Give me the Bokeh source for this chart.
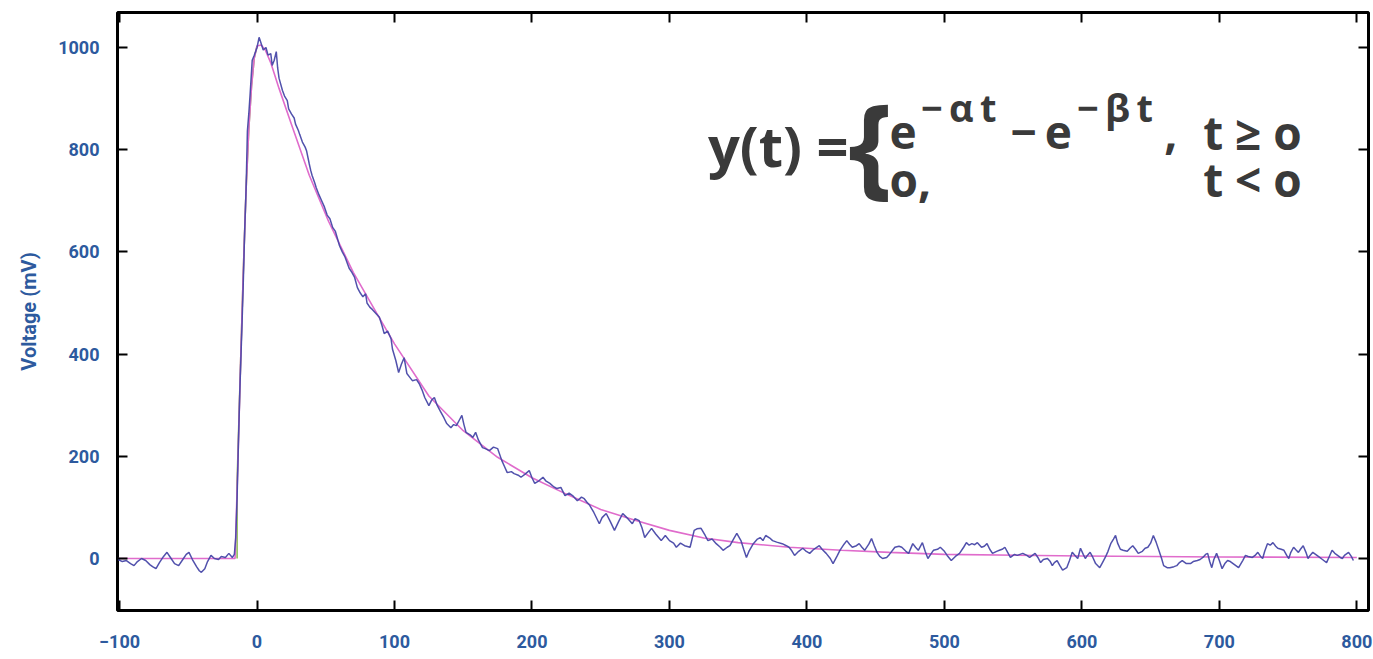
from bokeh.plotting import figure
from bokeh.models import Range1d, LinearAxis, Label, FixedTicker, CustomJSTickFormatter
from bokeh.embed import file_html
from bokeh.resources import INLINE

# ---------------- data ----------------
x_ticks = [-100, 0, 100, 200, 300, 400, 500, 600, 700, 800]
y_ticks = [0, 200, 400, 600, 800, 1000]

# measured trace, baseline before the trigger
pre_t = [-101, -98, -95, -92, -89.5, -87, -84, -81, -78, -76,
         -73.5, -71, -68, -65.5, -63, -60, -57, -54, -51.5, -49.5,
         -47, -44, -42, -40.5, -38, -36, -33.5, -31, -28, -26,
         -23, -20.5, -18, -16.5]
pre_v = [-2, -6, -4, -10, -14, -6, 0, -4, -12, -16,
         -20, -8, 4, 12, 2, -10, -14, -2, 8, 12,
         -2, -16, -24, -27, -20, -6, 6, 0, -2, 4,
         2, 10, 2, 8]

# rise and peak
peak_t = [-15.5, -14.5, -13.5, -12.5, -11, -10, -9, -8, -7, -6,
          -5, -3.5, -2, 0, 1.5, 3, 4.5, 6.5, 8, 10,
          11, 12.5, 14, 15, 16, 18.5, 20, 22, 23, 25,
          27, 28, 30, 31, 33, 35, 36, 38, 39, 40,
          42, 43, 45, 47, 49, 51, 53, 55, 57, 60,
          62, 64, 67, 69, 71, 73, 75, 77, 79, 80,
          82, 84, 87]
peak_v = [40, 120, 230, 330, 452, 540, 640, 720, 837, 870,
          910, 975, 985, 1000, 1020, 1008, 995, 1000, 985, 988,
          965, 975, 992, 960, 940, 916, 905, 896, 880, 870,
          862, 850, 838, 830, 815, 805, 798, 772, 760, 750,
          735, 726, 712, 700, 688, 672, 665, 648, 640, 612,
          600, 590, 568, 560, 550, 530, 520, 512, 518, 500,
          492, 487, 478]

# decay
decay_t = [89, 91, 92.5, 95, 97.5, 98.5, 101, 103, 105, 107,
           109, 111, 113, 116, 118, 120, 122, 125, 127, 129,
           131, 133, 136, 138, 141, 143, 145, 147, 149, 150.5,
           152, 155, 157, 159, 161, 164, 166, 169, 172, 175,
           178, 180, 182, 185, 187, 190, 192, 195, 198, 200,
           202, 205, 208, 210, 213, 216, 218, 221, 224, 227,
           230, 233, 236, 238, 240, 242]
decay_v = [472, 455, 440, 445, 430, 410, 387, 364, 380, 393,
           362, 355, 348, 350, 342, 330, 315, 299, 310, 315,
           300, 290, 275, 264, 256, 262, 260, 270, 280, 262,
           247, 242, 237, 247, 232, 217, 215, 211, 218, 215,
           192, 180, 168, 170, 166, 163, 159, 165, 172, 158,
           147, 152, 159, 152, 147, 140, 137, 139, 123, 128,
           122, 113, 120, 117, 110, 104]

# late decay
late_t = [245, 249, 251, 254, 257, 260, 263, 266, 269, 273,
          275, 278, 280, 282, 285, 287, 290, 294, 297, 300,
          303, 305, 308, 311, 315, 318, 320, 323, 326, 328,
          331, 334, 337, 339, 342, 344, 347, 349, 352, 354,
          356, 358, 361, 364, 366, 368, 370, 373, 375, 378,
          382, 385, 387, 389, 391, 394, 397, 399, 402, 405,
          409, 411, 414, 417, 419, 422, 424, 427, 429, 431,
          433, 436, 438, 440, 442, 445, 447, 449, 451, 453,
          455, 458]
late_v = [90, 68, 80, 88, 72, 55, 72, 88, 80, 68,
          78, 74, 60, 41, 52, 59, 48, 35, 45, 35,
          30, 22, 30, 25, 22, 55, 58, 59, 45, 35,
          38, 29, 22, 16, 22, 25, 40, 49, 35, 18,
          2, 15, 29, 38, 41, 35, 45, 40, 35, 32,
          29, 25, 22, 15, 6, 14, 20, 15, 10, 18,
          25, 18, 10, 0, -10, 5, 16, 28, 35, 28,
          22, 25, 29, 22, 16, 28, 39, 25, 12, 4,
          0, 2]

# tail
tail_t = [460, 464, 467, 469, 472, 474, 477, 479, 481, 484,
          486, 488, 490, 492, 495, 497, 500, 502, 505, 508,
          511, 514, 516, 518, 520, 522, 524, 527, 529, 531,
          533, 535, 538, 540, 542, 544, 546, 548, 551, 553,
          555, 557, 560, 562, 564, 566, 568, 570, 572, 575,
          577, 578.5, 580, 582, 584, 586, 589, 591, 593, 595,
          597, 599, 601, 602.5, 604, 606, 608, 610, 613, 615,
          617, 619, 621, 623, 624.5, 626, 628, 630, 633, 635,
          637, 639, 641, 644, 646, 648, 650, 652, 654, 656,
          658, 659.5, 662, 664, 667, 669, 671, 673, 676, 679,
          681, 684, 686, 688, 690, 691.5, 693, 694.5, 696, 698,
          700, 702, 704, 706, 708, 710, 712, 714, 717, 719,
          721, 724, 726, 728, 730, 731.5, 733, 735, 737, 739,
          741, 742.5, 745, 747, 749, 750.5, 752, 754, 756, 757.5,
          759, 761, 763, 764.5, 766, 768, 770, 773, 775, 778,
          780, 782, 784, 786, 788, 789.5, 791, 794, 796, 797.5]
tail_v = [8, 22, 24, 22, 14, 10, 29, 22, 16, 31,
          14, 0, 8, 16, 18, 22, 14, 6, -4, 4,
          10, 22, 31, 26, 29, 27, 31, 22, 24, 29,
          18, 10, 14, 16, 18, 22, 12, 2, 8, 6,
          8, 10, 6, 2, 6, 10, 2, -8, -2, 0,
          -6, -14, -8, -4, -14, -23, -18, -4, 12, 6,
          0, 20, 8, 0, 6, 12, 2, -10, -18, -8,
          2, 14, 29, 38, 45, 30, 18, 16, 14, 20,
          25, 18, 10, 14, 20, 22, 30, 45, 32, 16,
          0, -14, -18, -18, -16, -14, -8, -4, -10, -10,
          -6, -4, -2, 2, 8, 10, -6, -18, -2, 10,
          -4, -20, -10, -4, -6, -10, -14, -18, -4, 6,
          4, 2, 6, 12, 4, 0, 14, 29, 26, 31,
          24, 20, 18, 16, 6, 0, 12, 22, 16, 12,
          18, 25, 12, 0, 6, 12, 8, 2, -2, -8,
          4, 16, 10, 6, 2, 0, 6, 12, 4, -4]

# fitted curve (pink)
fit_t = [-101, -16, -14, -12, -10, -8, -6, -4, -2, 0,
         3, 6, 10, 16, 25, 38, 52, 70, 87, 100,
         125, 150, 175, 200, 225, 250, 275, 300, 325, 350,
         387, 425, 460, 500, 600, 700, 800]
fit_v = [0, 0, 180, 380, 560, 720, 840, 925, 980, 1003,
         1005, 995, 970, 920, 850, 750, 660, 560, 480, 420,
         318, 250, 198, 158, 126, 96, 75, 55, 40, 31,
         22, 16, 12, 8, 5, 3, 2]

# green onset line
onset_t = [-14.5, -14.5, -12, -10, -8, -6, -4, -2, 0]
onset_v = [0, 150, 380, 560, 720, 840, 925, 980, 1003]

trace_t = pre_t + peak_t + decay_t + late_t + tail_t
trace_v = pre_v + peak_v + decay_v + late_v + tail_v

# ---------------- styling ----------------
LABEL_BLUE = "#2d5a9e"
TEXT_GREY = "#3a3a3a"
TICK_FONT = "Roboto"

p = figure(width=1373, height=659, output_backend="svg", toolbar_location=None,
           x_range=Range1d(-101.5, 808.5), y_range=Range1d(-101.8, 1068.5),
           min_border_left=117, min_border_right=5, min_border_top=12,
           min_border_bottom=49, background_fill_color="white",
           border_fill_color="white")

p.xgrid.visible = False
p.ygrid.visible = False
p.outline_line_color = "black"
p.outline_line_width = 3
p.outline_line_alpha = 1


def style_axis(ax, ticks, show_labels):
    ax.ticker = FixedTicker(ticks=ticks)
    ax.major_tick_in = 10
    ax.major_tick_out = 0
    ax.minor_tick_in = 0
    ax.minor_tick_out = 0
    ax.major_tick_line_width = 2
    ax.major_tick_line_color = "black"
    ax.axis_line_color = None
    if show_labels:
        ax.major_label_text_font = TICK_FONT
        ax.major_label_text_font_style = "bold"
        ax.major_label_text_font_size = "18px"
        ax.major_label_text_color = LABEL_BLUE
    else:
        ax.formatter = CustomJSTickFormatter(code="return ''")
        ax.major_label_standoff = 0


style_axis(p.xaxis[0], x_ticks, True)
style_axis(p.yaxis[0], y_ticks, True)
p.xaxis[0].major_label_standoff = 24
p.yaxis[0].major_label_standoff = 18
p.yaxis[0].axis_label = "Voltage (mV)"
p.yaxis[0].axis_label_text_font = TICK_FONT
p.yaxis[0].axis_label_text_font_style = "bold"
p.yaxis[0].axis_label_text_font_size = "20px"
p.yaxis[0].axis_label_text_color = LABEL_BLUE
p.yaxis[0].axis_label_standoff = 14

top_ax = LinearAxis()
style_axis(top_ax, x_ticks, False)
p.add_layout(top_ax, "above")
right_ax = LinearAxis()
style_axis(right_ax, y_ticks, False)
p.add_layout(right_ax, "right")

# lines
p.line(onset_t, onset_v, line_color="#8fbf55", line_width=1.6)
p.line(fit_t, fit_v, line_color="#e06ccc", line_width=1.6)
p.line(trace_t, trace_v, line_color="#4848a8", line_width=1.5, line_alpha=0.95)

# formula
F = "Open Sans"
THIN = "\u2009"
def lab(x, y, text, size, align="left", baseline="alphabetic", style="bold"):
    p.add_layout(Label(x=x, y=y, x_units="data", y_units="data", text=text,
                       text_font=F, text_font_style=style,
                       text_font_size=size, text_color=TEXT_GREY,
                       text_align=align, text_baseline=baseline))

lab(328, 810, "y(t) =", "56px", baseline="middle")
lab(430, 818, "{", "112px", baseline="middle")
lab(460, 834, "e", "46px")
lab(483, 884, "−" + THIN + "α" + THIN + "t", "38px")
lab(548, 834, "−", "46px")
lab(573, 834, "e", "46px")
lab(596.5, 884, "−" + THIN + "β" + THIN + "t", "38px")
lab(660, 834, ",", "46px")
lab(760, 834, "t ≥ o", "46px", align="right")
lab(460, 742, "o,", "46px")
lab(760, 742, "t < o", "46px", align="right")

open("out.html", "w").write(file_html(p, INLINE))
